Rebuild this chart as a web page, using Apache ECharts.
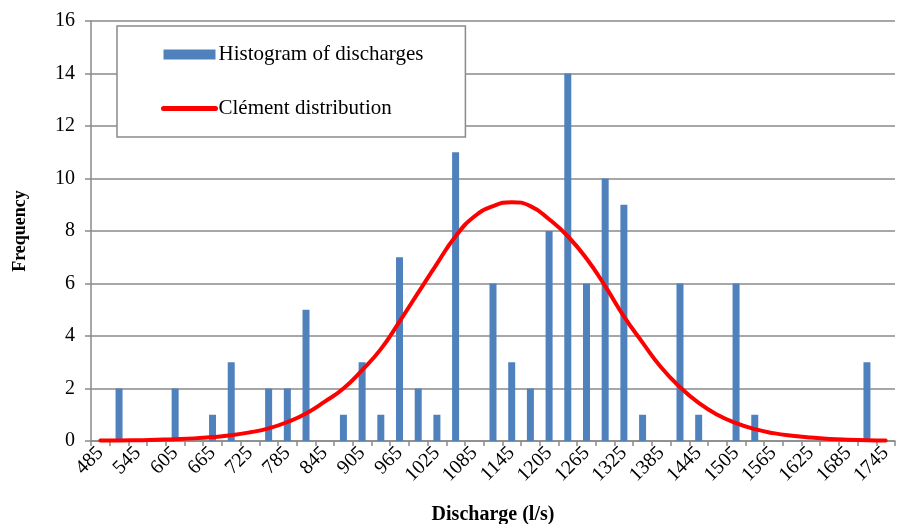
<html>
<head>
    <meta charset="utf-8">
    <title>Histogram of discharges</title>
    <script src="https://cdn.jsdelivr.net/npm/echarts@6.0.0/dist/echarts.min.js"></script>
    <style>
        html, body { margin: 0; padding: 0; background: #fff; }
    </style>
</head>

<body>
<div id="main" style="width: 901px; height: 524px"></div>
</body>
<script>

    // discharge classes (l/s)
    var categories = ['485', '515', '545', '575', '605', '635', '665', '695', '725', '755',
        '785', '815', '845', '875', '905', '935', '965', '995', '1025', '1055',
        '1085', '1115', '1145', '1175', '1205', '1235', '1265', '1295', '1325', '1355',
        '1385', '1415', '1445', '1475', '1505', '1535', '1565', '1595', '1625', '1655',
        '1685', '1715', '1745']

    // observed frequency per class
    var histogram = [0, 2, 0, 0, 2, 0, 1, 3, 0, 2,
        2, 5, 0, 1, 3, 1, 7, 2, 1, 11,
        0, 6, 3, 2, 8, 14, 6, 10, 9, 1,
        0, 6, 1, 0, 6, 1, 0, 0, 0, 0,
        0, 3, 0]

    // fitted Clément curve
    var clement = [0.02, 0.02, 0.03, 0.05, 0.07, 0.1, 0.15, 0.22, 0.33, 0.48,
        0.72, 1.05, 1.5, 2.0, 2.7, 3.5, 4.55, 5.65, 6.75, 7.8,
        8.55, 8.95, 9.1, 8.95, 8.45, 7.8, 6.95, 5.9, 4.75, 3.75,
        2.8, 2.05, 1.45, 1.0, 0.68, 0.45, 0.3, 0.2, 0.13, 0.08,
        0.05, 0.03, 0.02]

    var serif = '"Liberation Serif", "Times New Roman", serif'
    var gray = '#8a8a8a'

    var myChart = echarts.init(document.getElementById('main'))

    myChart.setOption({
        animation: false,
        textStyle: { fontFamily: serif, color: '#000' },
        grid: { left: 91, right: 6, top: 21, bottom: 83, outerBoundsMode: 'none', containLabel: false },
        legend: {
            orient: 'vertical',
            left: 117,
            top: 26,
            padding: [18, 42, 18, 44],
            itemGap: 33,
            itemWidth: 52,
            itemHeight: 10,
            backgroundColor: '#fff',
            borderColor: gray,
            borderWidth: 1.5,
            textStyle: { fontFamily: serif, fontSize: 21, color: '#000', padding: [0, 0, 0, -2] },
            data: [
                { name: 'Histogram of discharges', icon: 'rect' },
                {
                    name: 'Clément distribution',
                    itemStyle: { opacity: 0 },
                    lineStyle: { color: '#ff0000', width: 5, cap: 'round' }
                }
            ]
        },
        xAxis: {
            type: 'category',
            data: categories,
            boundaryGap: true,
            name: 'Discharge (l/s)',
            nameLocation: 'middle',
            nameGap: 64,
            nameTextStyle: { fontFamily: serif, fontSize: 20, fontWeight: 'bold', color: '#000' },
            axisLine: { lineStyle: { color: gray, width: 1.5 } },
            axisTick: { show: true, interval: 0, length: 5, lineStyle: { color: gray, width: 1.5 } },
            axisLabel: {
                interval: 1,
                rotate: 45,
                margin: 9,
                fontFamily: serif,
                fontSize: 20,
                color: '#000'
            },
            splitLine: { show: false }
        },
        yAxis: {
            type: 'value',
            min: 0,
            max: 16,
            interval: 2,
            name: 'Frequency',
            nameLocation: 'middle',
            nameGap: 62,
            nameTextStyle: { fontFamily: serif, fontSize: 18, fontWeight: 'bold', color: '#000' },
            axisLine: { show: true, lineStyle: { color: gray, width: 1.5 } },
            axisTick: { show: true, length: 6, lineStyle: { color: gray, width: 1.5 } },
            axisLabel: { margin: 16, fontFamily: serif, fontSize: 20, color: '#000' },
            splitLine: { lineStyle: { color: gray, width: 1.5 } }
        },
        series: [
            {
                name: 'Histogram of discharges',
                type: 'bar',
                data: histogram,
                barWidth: 7,
                itemStyle: { color: '#4f81bd' }
            },
            {
                name: 'Clément distribution',
                type: 'line',
                data: clement,
                smooth: true,
                symbol: 'none',
                lineStyle: { color: '#ff0000', width: 4, cap: 'round' },
                itemStyle: { color: '#ff0000' }
            }
        ]
    })
</script>
</html>
